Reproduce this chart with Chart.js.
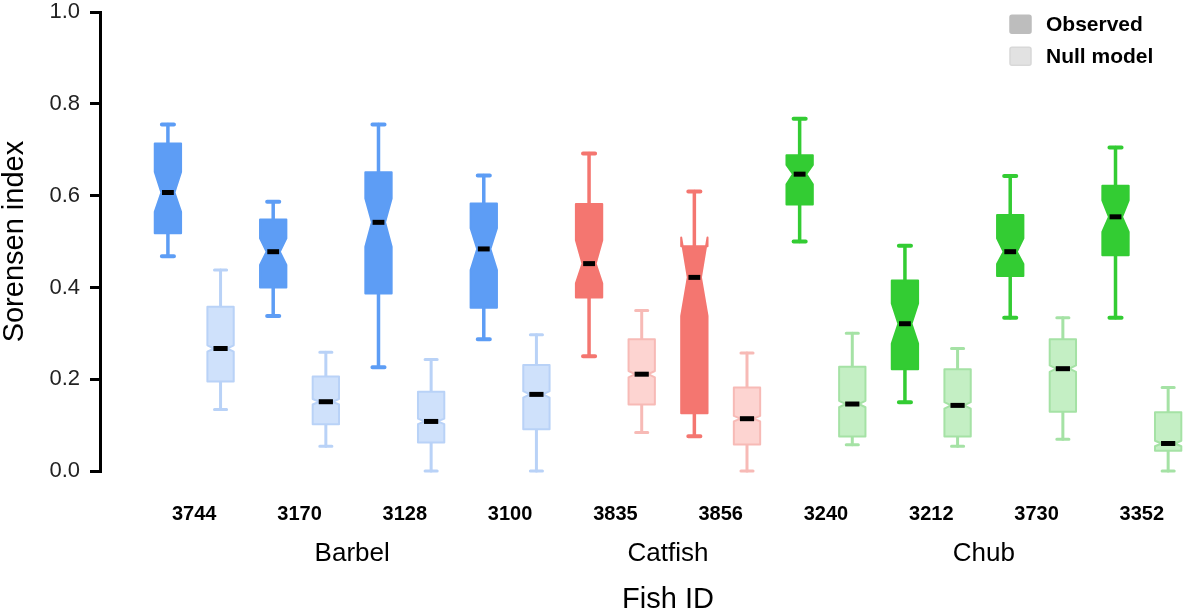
<!DOCTYPE html>
<html lang="en">
<head>
  <meta charset="UTF-8" />
  <title>Sorensen index by fish</title>
  <script src="https://cdn.jsdelivr.net/npm/chart.js"></script>
  <style>
    html, body { margin: 0; padding: 0; background: #fff; }
    #wrap { width: 1185px; height: 616px; position: relative; }
  </style>
</head>
<body>
  <div id="wrap"><canvas id="boxChart"></canvas></div>

  <script>
    // fish and their species
    const fishIds = ['3744', '3170', '3128', '3100', '3835', '3856', '3240', '3212', '3730', '3352'];
    const species = ['Barbel', 'Barbel', 'Barbel', 'Barbel', 'Catfish', 'Catfish', 'Chub', 'Chub', 'Chub', 'Chub'];
    const groupNames = ['Barbel', 'Catfish', 'Chub'];
    const yTicks = [0, 0.2, 0.4, 0.6, 0.8, 1.0];
    const legendLabels = ['Observed', 'Null model'];

    // observed box stats
    const obsMin     = [0.468, 0.338, 0.226, 0.287, 0.250, 0.076, 0.500, 0.150, 0.334, 0.334];
    const obsQ1      = [0.518, 0.400, 0.387, 0.356, 0.378, 0.126, 0.581, 0.222, 0.425, 0.470];
    const obsMedian  = [0.607, 0.478, 0.542, 0.484, 0.452, 0.422, 0.647, 0.321, 0.478, 0.554];
    const obsQ3      = [0.714, 0.548, 0.651, 0.583, 0.582, 0.490, 0.688, 0.415, 0.558, 0.622];
    const obsMax     = [0.755, 0.587, 0.755, 0.644, 0.692, 0.609, 0.768, 0.491, 0.643, 0.705];
    const obsNotchLo = [0.565, 0.449, 0.489, 0.438, 0.409, 0.338, 0.625, 0.278, 0.451, 0.521];
    const obsNotchHi = [0.652, 0.507, 0.594, 0.529, 0.503, 0.509, 0.667, 0.365, 0.507, 0.590];

    // null model box stats
    const nullMin     = [0.134, 0.054, 0.000, 0.000, 0.084, 0.000, 0.057, 0.054, 0.069, 0.000];
    const nullQ1      = [0.195, 0.102, 0.062, 0.091, 0.145, 0.058, 0.075, 0.075, 0.129, 0.044];
    const nullMedian  = [0.267, 0.151, 0.108, 0.167, 0.211, 0.114, 0.146, 0.143, 0.223, 0.060];
    const nullQ3      = [0.358, 0.206, 0.173, 0.231, 0.287, 0.182, 0.227, 0.222, 0.287, 0.128];
    const nullMax     = [0.438, 0.259, 0.243, 0.297, 0.350, 0.257, 0.300, 0.267, 0.334, 0.182];
    const nullNotchLo = [0.260, 0.145, 0.102, 0.160, 0.204, 0.108, 0.139, 0.136, 0.216, 0.054];
    const nullNotchHi = [0.274, 0.157, 0.114, 0.174, 0.218, 0.120, 0.153, 0.150, 0.230, 0.066];

    const speciesColors = {
      Barbel:  { solid: '#5D9DF5', light: '#CFE1FB', lightEdge: '#B9D2F7' },
      Catfish: { solid: '#F47670', light: '#FDD4D1', lightEdge: '#F7BAB6' },
      Chub:    { solid: '#33CC33', light: '#C4EFC4', lightEdge: '#A5E2A5' }
    };

    Chart.defaults.font.family = "'Liberation Sans', Arial, sans-serif";

    function statsFor(i, kind) {
      if (kind === 'obs') {
        return { min: obsMin[i], q1: obsQ1[i], med: obsMedian[i], q3: obsQ3[i], max: obsMax[i],
                 nLo: obsNotchLo[i], nHi: obsNotchHi[i] };
      }
      return { min: nullMin[i], q1: nullQ1[i], med: nullMedian[i], q3: nullQ3[i], max: nullMax[i],
               nLo: nullNotchLo[i], nHi: nullNotchHi[i] };
    }

    // slot 2i = observed, 2i+1 = null model
    const datasets = [
      {
        label: 'Observed',
        kind: 'obs',
        data: fishIds.map((id, i) => ({ x: 2 * i, y: obsMedian[i] })),
        pointRadius: 0
      },
      {
        label: 'Null model',
        kind: 'null',
        data: fishIds.map((id, i) => ({ x: 2 * i + 1, y: nullMedian[i] })),
        pointRadius: 0
      }
    ];

    const BOX_W = 0.5, CAP_W = 0.23;

    function drawBox(ctx, xs, ys, slot, s, kind, col) {
      const px = xs.getPixelForValue(slot);
      const half = (xs.getPixelForValue(slot + BOX_W / 2) - xs.getPixelForValue(slot - BOX_W / 2)) / 2;
      const cap = (xs.getPixelForValue(slot + CAP_W / 2) - px);
      const yp = v => ys.getPixelForValue(v);
      const obs = kind === 'obs';
      const line = obs ? col.solid : col.lightEdge;

      ctx.save();
      ctx.strokeStyle = line;
      ctx.lineCap = 'round';
      // whiskers
      ctx.lineWidth = obs ? 3.5 : 3;
      ctx.beginPath();
      ctx.moveTo(px, yp(s.q3)); ctx.lineTo(px, yp(s.max));
      ctx.moveTo(px, yp(s.q1)); ctx.lineTo(px, yp(s.min));
      ctx.stroke();
      ctx.lineWidth = obs ? 4 : 3;
      ctx.beginPath();
      ctx.moveTo(px - cap, yp(s.max)); ctx.lineTo(px + cap, yp(s.max));
      ctx.moveTo(px - cap, yp(s.min)); ctx.lineTo(px + cap, yp(s.min));
      ctx.stroke();

      // notched box
      const xmin = px - half, xmax = px + half, ind = half * 0.5;
      ctx.beginPath();
      ctx.moveTo(xmin, yp(s.q3));
      ctx.lineTo(xmin, yp(s.nHi));
      ctx.lineTo(xmin + ind, yp(s.med));
      ctx.lineTo(xmin, yp(s.nLo));
      ctx.lineTo(xmin, yp(s.q1));
      ctx.lineTo(xmax, yp(s.q1));
      ctx.lineTo(xmax, yp(s.nLo));
      ctx.lineTo(xmax - ind, yp(s.med));
      ctx.lineTo(xmax, yp(s.nHi));
      ctx.lineTo(xmax, yp(s.q3));
      ctx.closePath();
      ctx.fillStyle = obs ? col.solid : col.light;
      ctx.fill();
      ctx.lineJoin = 'round';
      ctx.lineWidth = 2;
      ctx.stroke();

      // median
      const mHalf = half * (obs ? 0.45 : 0.54);
      ctx.lineCap = 'butt';
      ctx.strokeStyle = '#000';
      ctx.lineWidth = 5;
      ctx.beginPath();
      ctx.moveTo(px - mHalf, yp(s.med));
      ctx.lineTo(px + mHalf, yp(s.med));
      ctx.stroke();
      ctx.restore();
    }

    const notchedBoxes = {
      id: 'notchedBoxes',
      afterDatasetsDraw(chart) {
        const { ctx, scales: { x, y } } = chart;
        chart.data.datasets.forEach(ds => {
          ds.data.forEach((pt, i) => {
            drawBox(ctx, x, y, pt.x, statsFor(i, ds.kind), ds.kind, speciesColors[species[i]]);
          });
        });
      }
    };

    // species names, x title and legend
    const extras = {
      id: 'extras',
      afterDraw(chart) {
        const { ctx, chartArea, scales: { x } } = chart;
        ctx.save();
        ctx.fillStyle = '#000';
        ctx.textAlign = 'center';
        ctx.textBaseline = 'middle';
        ctx.font = "26px 'Liberation Sans', Arial, sans-serif";
        groupNames.forEach(g => {
          const slots = [];
          species.forEach((sp, i) => { if (sp === g) slots.push(2 * i, 2 * i + 1); });
          const mid = slots.reduce((a, b) => a + b, 0) / slots.length;
          ctx.fillText(g, x.getPixelForValue(mid), chartArea.bottom + 83);
        });
        ctx.font = "29px 'Liberation Sans', Arial, sans-serif";
        ctx.fillText('Fish ID', x.getPixelForValue((fishIds.length * 2 - 1) / 2), chartArea.bottom + 129);

        // legend
        const x0 = chartArea.right - 175, y0 = chartArea.top + 3;
        const swatches = [
          { fill: '#BDBDBD', edge: '#BDBDBD' },
          { fill: '#E2E2E2', edge: '#D8D8D8' }
        ];
        ctx.textAlign = 'left';
        ctx.font = "bold 21px 'Liberation Sans', Arial, sans-serif";
        legendLabels.forEach((lab, k) => {
          const yy = y0 + k * 32;
          ctx.fillStyle = swatches[k].fill;
          ctx.strokeStyle = swatches[k].edge;
          ctx.lineWidth = 1.5;
          ctx.beginPath();
          ctx.roundRect(x0, yy, 21, 18, 2);
          ctx.fill();
          ctx.stroke();
          ctx.fillStyle = '#000';
          ctx.fillText(lab, x0 + 36, yy + 10);
        });
        ctx.restore();
      }
    };

    new Chart(document.getElementById('boxChart'), {
      type: 'scatter',
      data: { datasets },
      options: {
        responsive: true,
        maintainAspectRatio: false,
        animation: false,
        layout: { padding: 0 },
        plugins: {
          legend: { display: false },
          tooltip: { enabled: false }
        },
        scales: {
          x: {
            type: 'linear',
            min: -1.29,
            max: 19.32,
            // invisible tick marks give the gap between the boxes and the fish IDs
            grid: { display: true, drawOnChartArea: false, drawTicks: true, tickLength: 31, color: 'rgba(0,0,0,0)' },
            border: { display: false },
            afterBuildTicks: s => { s.ticks = fishIds.map((id, i) => ({ value: 2 * i + 0.5 })); },
            ticks: {
              autoSkip: false,
              maxRotation: 0,
              padding: 0,
              color: '#000',
              font: { size: 20, weight: 'bold' },
              callback: (v, i) => fishIds[i]
            },
            afterFit: s => { s.height = 145; }
          },
          y: {
            min: 0,
            max: 1,
            afterBuildTicks: s => { s.ticks = yTicks.map(v => ({ value: v })); },
            ticks: {
              color: '#222',
              padding: 10,
              // small line height keeps the top of the plot at y = 12
              font: { size: 22, lineHeight: 0.2 },
              callback: v => v.toFixed(1)
            },
            grid: { drawOnChartArea: false, tickLength: 10, color: '#000', lineWidth: 3 },
            border: { color: '#000', width: 3 },
            title: {
              display: true,
              text: 'Sorensen index',
              color: '#000',
              padding: 0,
              font: { size: 29, lineHeight: 1 }
            },
            afterFit: s => { s.width = 100; }
          }
        }
      },
      plugins: [notchedBoxes, extras]
    });
  </script>
</body>
</html>
